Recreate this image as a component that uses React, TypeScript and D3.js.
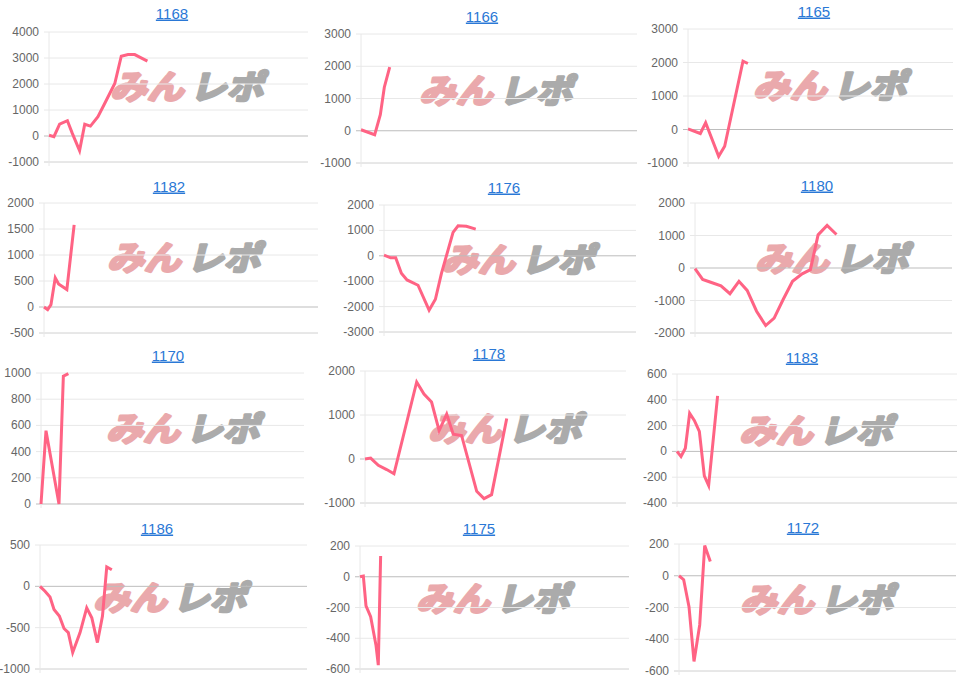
import React from 'react';
import * as d3 from 'd3';

// x values are read as % of the plot width, y values in the chart's units
const x1168 = [0, 1.9, 4.1, 7.1, 9.0, 11.8, 13.8, 16.0, 18.9, 21.5, 25.4, 27.9, 30.5, 33.1, 38.0];
const y1168 = [30, -25, 460, 590, 100, -560, 450, 380, 740, 1250, 2020, 3070, 3130, 3130, 2880];

const x1166 = [0, 4.95, 7.0, 8.45, 10.4];
const y1166 = [30, -125, 500, 1350, 1975];

const x1165 = [0, 4.65, 6.66, 11.57, 13.84, 20.75, 22.6];
const y1165 = [20, -120, 200, -800, -500, 2040, 1970];

const x1182 = [0, 1.33, 2.54, 4.11, 5.32, 8.34, 11.0];
const y1182 = [0, -50, 45, 560, 445, 335, 1580];

const x1176 = [0, 2.65, 4.64, 6.89, 9.14, 13.5, 17.9, 20.4, 22.8, 27.4, 29.4, 32.7, 36.4];
const y1176 = [25, -80, -80, -690, -950, -1160, -2140, -1710, -690, 920, 1180, 1160, 1050];

const x1180 = [0, 2.98, 5.83, 10.1, 13.6, 17.1, 20.3, 23.96, 27.5, 30.8, 34.3, 37.95, 41.7, 44.9, 47.9, 51.4, 55.05];
const y1180 = [-20, -350, -430, -550, -790, -410, -690, -1330, -1770, -1540, -970, -410, -180, -50, 1020, 1310, 1030];

const x1170 = [0, 1.9, 6.84, 8.5, 10.4];
const y1170 = [0, 560, 0, 975, 995];

const x1178 = [0, 2.17, 5.1, 8.3, 11.1, 19.8, 22.6, 25.5, 28.4, 31.3, 33.8, 37.0, 42.8, 45.6, 48.5, 54.3];
const y1178 = [0, 20, -145, -240, -335, 1750, 1475, 1295, 645, 1020, 565, 535, -735, -900, -810, 920];

const x1183 = [0, 1.43, 2.98, 4.52, 6.19, 7.98, 9.76, 11.3, 14.5];
const y1183 = [0, -40, 25, 295, 240, 155, -190, -265, 430];

const x1186 = [0, 1.88, 3.75, 5.25, 7.25, 9.0, 10.6, 12.25, 15.0, 17.5, 19.4, 21.5, 23.4, 25.0, 26.9];
const y1186 = [0, -60, -130, -280, -360, -510, -560, -800, -560, -260, -380, -680, -360, 235, 200];

const x1175 = [0, 1.24, 2.23, 3.96, 5.94, 6.8, 7.67];
const y1175 = [0, 5, -190, -260, -445, -575, 135];

const x1172 = [0, 1.69, 3.61, 5.42, 7.47, 9.28, 11.3];
const y1172 = [0, -25, -195, -540, -310, 190, 90];

// y axis ranges [min, max, step]
const axis1168 = [-1000, 4000, 1000];
const axis1166 = [-1000, 3000, 1000];
const axis1165 = [-1000, 3000, 1000];
const axis1182 = [-500, 2000, 500];
const axis1176 = [-3000, 2000, 1000];
const axis1180 = [-2000, 2000, 1000];
const axis1170 = [0, 1000, 200];
const axis1178 = [-1000, 2000, 1000];
const axis1183 = [-400, 600, 200];
const axis1186 = [-1000, 500, 500];
const axis1175 = [-600, 200, 200];
const axis1172 = [-600, 200, 200];

const charts = [
  { id: '1168', xs: x1168, ys: y1168, axis: axis1168, box: [49, 308, 32, 162], title: [172, 13], logo: [189, 87] },
  { id: '1166', xs: x1166, ys: y1166, axis: axis1166, box: [361, 637, 34, 163], title: [482, 16], logo: [498, 91] },
  { id: '1165', xs: x1165, ys: y1165, axis: axis1165, box: [688, 953, 29, 163], title: [814, 11], logo: [832, 86] },
  { id: '1182', xs: x1182, ys: y1182, axis: axis1182, box: [44, 318, 203, 333], title: [169, 186], logo: [186, 258] },
  { id: '1176', xs: x1176, ys: y1176, axis: axis1176, box: [384, 636, 205, 332], title: [504, 187], logo: [520, 260] },
  { id: '1180', xs: x1180, ys: y1180, axis: axis1180, box: [695, 952, 203, 333], title: [817, 185], logo: [834, 259] },
  { id: '1170', xs: x1170, ys: y1170, axis: axis1170, box: [41, 304, 373, 504], title: [168, 355], logo: [185, 429] },
  { id: '1178', xs: x1178, ys: y1178, axis: axis1178, box: [365, 626, 371, 503], title: [489, 353], logo: [507, 429] },
  { id: '1183', xs: x1183, ys: y1183, axis: axis1183, box: [677, 957, 374, 503], title: [802, 357], logo: [818, 431] },
  { id: '1186', xs: x1186, ys: y1186, axis: axis1186, box: [40, 307, 545, 669], title: [157, 528], logo: [172, 598] },
  { id: '1175', xs: x1175, ys: y1175, axis: axis1175, box: [360, 629, 546, 669], title: [479, 528], logo: [495, 599] },
  { id: '1172', xs: x1172, ys: y1172, axis: axis1172, box: [679, 956, 544, 671], title: [803, 527], logo: [819, 600] },
];

const font = '"Liberation Sans", Arial, sans-serif';
const jp = '"Noto Sans CJK JP", sans-serif';

function Logo({ x, y }) {
  return (
    <g transform={`translate(${x},${y})`}>
      <g transform="skewX(-14) scale(1.05,0.95)">
        <text x={-2} y={13} textAnchor="end" fontFamily={jp} fontWeight={700}
          fontSize={35} fill="#eaa9ac" stroke="#eaa9ac" strokeWidth={3} strokeLinejoin="round">みん</text>
        <text x={4} y={13} textAnchor="start" fontFamily={jp} fontWeight={700}
          fontSize={35} fill="#ababab" stroke="#ababab" strokeWidth={3} strokeLinejoin="round">レポ</text>
      </g>
    </g>
  );
}

function MiniChart({ c }) {
  const [left, right, top, bottom] = c.box;
  const [min, max, step] = c.axis;
  const x = d3.scaleLinear().domain([0, 100]).range([left, right]);
  const y = d3.scaleLinear().domain([min, max]).range([bottom, top]);
  const ticks = d3.range(min, max + step / 2, step);
  const pts = c.xs.map((v, i) => [v, c.ys[i]]);
  const line = d3.line().x(d => x(d[0])).y(d => y(d[1]));

  return (
    <g>
      <text x={c.title[0]} y={c.title[1] + 5.5} textAnchor="middle" fontFamily={font} fontSize={15}
        fill="#2a78d6" textDecoration="underline">{c.id}</text>
      <Logo x={c.logo[0]} y={c.logo[1]} />
      {ticks.map(t => (
        <g key={t}>
          <line x1={left - 5} x2={right} y1={y(t)} y2={y(t)}
            stroke={t === 0 ? '#bdbdbd' : (t === min ? '#d0d0d0' : '#e8e8e8')} strokeWidth={1} />
          <text x={left - 10} y={y(t) + 4} textAnchor="end" fontFamily={font} fontSize={12} fill="#666">{t}</text>
        </g>
      ))}
      <line x1={left} x2={left} y1={top} y2={bottom + 4} stroke="#e8e8e8" />
      <path d={line(pts)} fill="none" stroke="#ff6384" strokeWidth={3} />
    </g>
  );
}

export default function App() {
  return (
    <svg width={963} height={681} style={{ position: 'absolute', left: 0, top: 0, background: '#fff' }}>
      {charts.map(c => <MiniChart key={c.id} c={c} />)}
    </svg>
  );
}
